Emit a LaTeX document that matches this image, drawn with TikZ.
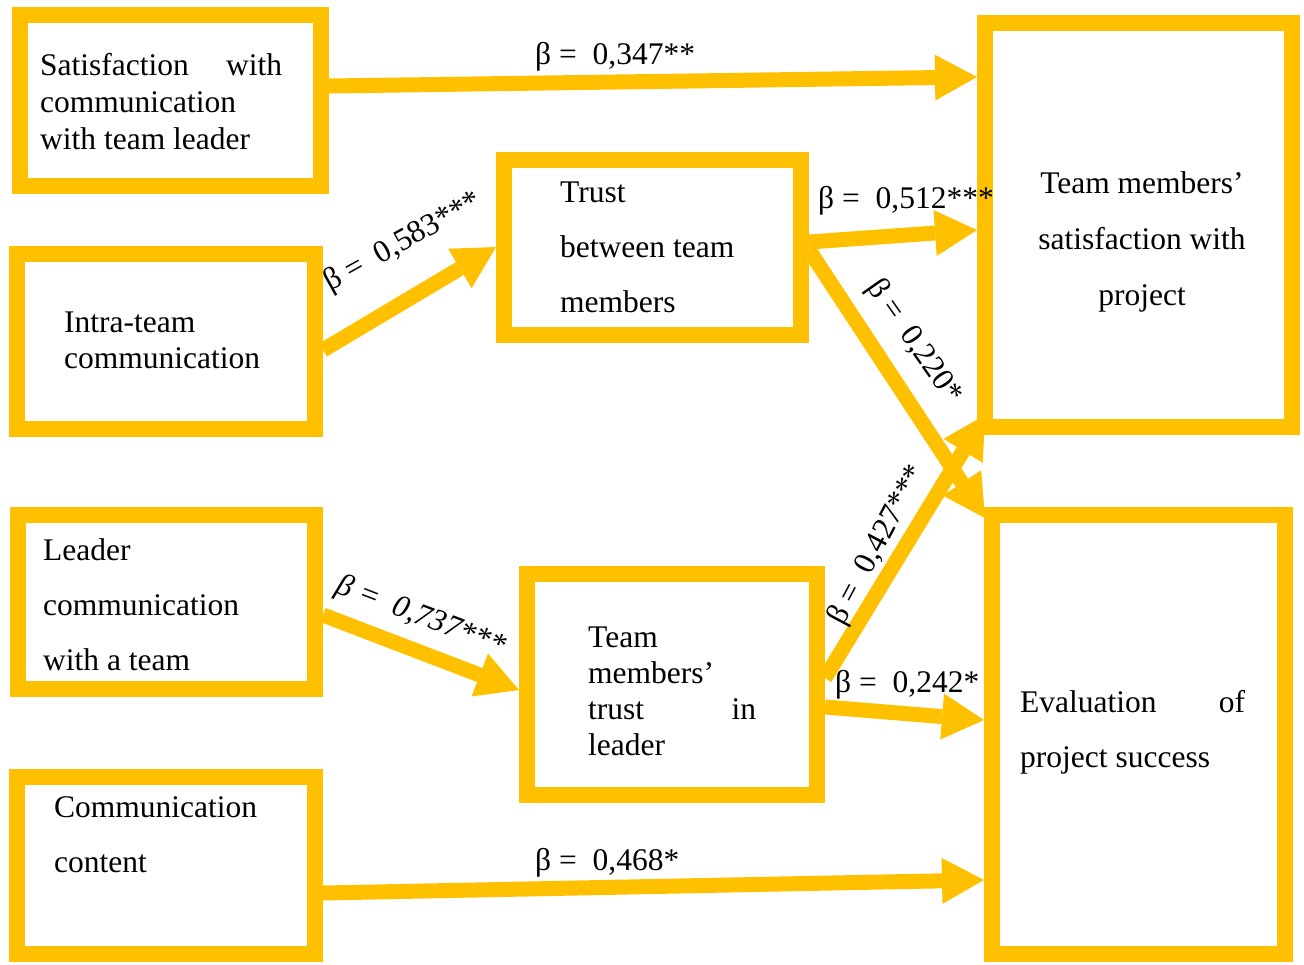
\documentclass[tikz,border=0pt]{standalone}
\usepackage{fontspec}
\setmainfont{Liberation Serif}
\usetikzlibrary{arrows.meta,calc}
\definecolor{gold}{RGB}{255,192,0}
\tikzset{
  box/.style={draw=gold, line width=16pt, inner sep=0pt},
  arr/.style={draw=gold, line width=15pt, -{Triangle[length=42pt,width=46pt,line width=0pt]}},
  txt/.style={anchor=base west, inner sep=0pt, font=\fontsize{31.5}{#1}\selectfont},
  txt/.default=37,
  lbl/.style={inner sep=0pt, font=\fontsize{31.5}{37}\selectfont},
}
\begin{document}
\begin{tikzpicture}[x=1pt,y=-1pt]
\useasboundingbox (0,0) rectangle (1304,964);
% boxes
\node[box, minimum width=301pt, minimum height=171pt] (b1) at (170.5,100.5) {};
\node[box, minimum width=298pt, minimum height=175pt] (b2) at (166,341.5) {};
\node[box, minimum width=297pt, minimum height=175pt] (b3) at (652.5,247.5) {};
\node[box, minimum width=307pt, minimum height=404pt] (b4) at (1138.5,225) {};
\node[box, minimum width=297pt, minimum height=174pt] (b5) at (166.5,602) {};
\node[box, minimum width=290pt, minimum height=221pt] (b6) at (672,684.5) {};
\node[box, minimum width=298pt, minimum height=177pt] (b7) at (166,865.5) {};
\node[box, minimum width=293pt, minimum height=439pt] (b8) at (1138.5,734.5) {};
% box texts
\node[txt] (t1) at (40,75) {\begin{tabular}[t]{@{}l@{}}\hbox to 242pt{Satisfaction\hfill with}\\ communication\\ with team leader\end{tabular}};
\node[txt=36.5] (t2) at (64,332) {\begin{tabular}[t]{@{}l@{}}Intra-team\\ communication\end{tabular}};
\node[txt=55] (t3) at (560,202) {\begin{tabular}[t]{@{}l@{}}Trust\\ between team\\ members\end{tabular}};
\node[txt=56, anchor=base] (t4) at (1142,193) {\begin{tabular}[t]{@{}c@{}}Team members’\\ satisfaction with\\ project\end{tabular}};
\node[txt=55] (t5) at (43,560) {\begin{tabular}[t]{@{}l@{}}Leader\\ communication\\ with a team\end{tabular}};
\node[txt=36] (t6) at (588,647) {\begin{tabular}[t]{@{}l@{}}Team\\ members’\\ \hbox to 168pt{trust\hfill in}\\ leader\end{tabular}};
\node[txt=55] (t7) at (54,817) {\begin{tabular}[t]{@{}l@{}}Communication\\ content\end{tabular}};
\node[txt=55] (t8) at (1020,712) {\begin{tabular}[t]{@{}l@{}}\hbox to 225pt{Evaluation\hfill of}\\ project success\end{tabular}};
% arrows
\draw[arr] (b1.east |- 0,86) -- (b4.west |- 0,77);
\draw[arr] (b2.east |- 0,350) -- (b3.west |- 0,247);
\draw[arr] (b3.east |- 0,242) -- (b4.west |- 0,230);
\draw[arr] (b3.east |- 0,250) -- ($(b8.north west)+(1,11)$);
\draw[arr] (b6.east |- 0,678) -- ($(b4.south west)+(8,-20)$);
\draw[arr] (b6.east |- 0,707) -- (b8.west |- 0,720);
\draw[arr] (b5.east |- 0,615) -- (b6.west |- 0,690);
\draw[arr] (b7.east |- 0,893) -- (b8.west |- 0,880);
% labels
\node[txt] (l1) at (535,64) {β =\ \ 0,347**};
\node[txt] (l3) at (818,208) {β =\ \ 0,512***};
\node[txt] (l6) at (835,692) {β =\ \ 0,242*};
\node[txt] (l8) at (535,870) {β =\ \ 0,468*};
\node[txt, rotate=29] (l2) at (330,292) {β =\ \ 0,583***};
\node[txt, rotate=-21] (l7) at (334,592) {\itshape β =\ \ 0,737***};
\node[lbl, rotate=-55] (l4) at (914,342) {β =\ \ 0,220*};
\node[lbl, rotate=62] (l5) at (878,545) {β =\ \ 0,427***};
\end{tikzpicture}
\end{document}
